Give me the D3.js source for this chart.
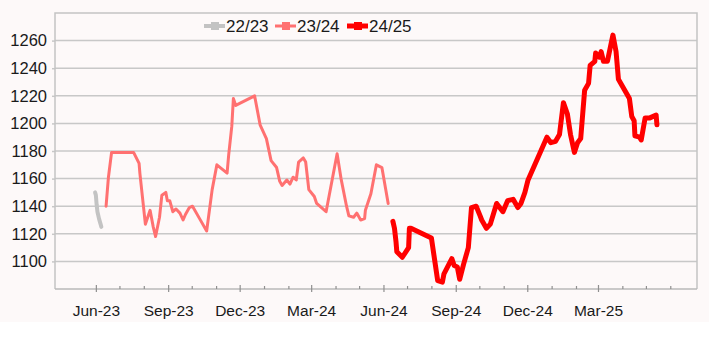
<!DOCTYPE html>
<html>
<head>
<meta charset="utf-8">
<script src="https://cdn.jsdelivr.net/npm/d3@7/dist/d3.min.js"></script>
<style>
  html, body { margin: 0; padding: 0; background: #ffffff; }
  svg { display: block; font-family: "Liberation Sans", Arial, sans-serif; }
</style>
</head>
<body>
<svg id="chart" width="709" height="340"></svg>
<script>
// ---- data ----
const seriesNames = ["22/23", "23/24", "24/25"];
const seriesColors = ["#c3c3c3", "#ff7171", "#ff0000"];

const dates2223 = ["2023-05-31","2023-06-01","2023-06-02","2023-06-03","2023-06-05","2023-06-07","2023-06-08"];
const values2223 = [1150, 1148, 1141, 1136, 1131, 1127, 1125];

const dates2324 = ["2023-06-14","2023-06-17","2023-06-21","2023-07-19","2023-07-26","2023-07-27","2023-08-03","2023-08-06","2023-08-09","2023-08-13","2023-08-16","2023-08-21","2023-08-24","2023-08-29","2023-08-31","2023-09-03","2023-09-07","2023-09-11","2023-09-16","2023-09-20","2023-09-23","2023-09-28","2023-10-02","2023-10-11","2023-10-20","2023-10-27","2023-11-02","2023-11-15","2023-11-17","2023-11-21","2023-11-23","2023-11-26","2023-12-20","2023-12-27","2024-01-04","2024-01-10","2024-01-17","2024-01-21","2024-01-24","2024-01-30","2024-02-03","2024-02-07","2024-02-11","2024-02-14","2024-02-20","2024-02-23","2024-02-27","2024-03-05","2024-03-08","2024-03-12","2024-03-20","2024-04-03","2024-04-08","2024-04-15","2024-04-18","2024-04-24","2024-04-28","2024-05-03","2024-05-08","2024-05-09","2024-05-16","2024-05-23","2024-05-30","2024-06-07"];
const values2324 = [1140, 1161, 1179, 1179, 1171, 1164, 1127, 1132, 1137, 1125, 1118, 1132, 1148, 1150, 1144, 1144, 1136, 1138, 1135, 1130, 1134, 1139, 1140, 1131, 1122, 1152, 1170, 1164, 1177, 1198, 1218, 1213, 1220, 1199, 1189, 1173, 1168, 1158, 1155, 1159, 1156, 1161, 1159, 1172, 1175, 1172, 1152, 1147, 1142, 1140, 1136, 1178, 1160, 1140, 1133, 1132, 1135, 1130, 1131, 1137, 1149, 1170, 1168, 1142];

const dates2425 = ["2024-06-13","2024-06-15","2024-06-17","2024-06-18","2024-06-25","2024-07-03","2024-07-04","2024-07-06","2024-08-01","2024-08-09","2024-08-15","2024-08-17","2024-08-27","2024-08-30","2024-09-03","2024-09-06","2024-09-11","2024-09-17","2024-09-21","2024-09-27","2024-10-02","2024-10-04","2024-10-10","2024-10-15","2024-10-23","2024-10-31","2024-11-06","2024-11-13","2024-11-19","2024-11-23","2024-11-28","2024-12-02","2024-12-26","2024-12-31","2025-01-06","2025-01-11","2025-01-16","2025-01-21","2025-01-25","2025-01-30","2025-02-03","2025-02-07","2025-02-12","2025-02-17","2025-02-19","2025-02-25","2025-02-26","2025-03-03","2025-03-05","2025-03-08","2025-03-13","2025-03-20","2025-03-24","2025-03-27","2025-04-06","2025-04-10","2025-04-13","2025-04-16","2025-04-17","2025-04-23","2025-04-25","2025-04-30","2025-05-06","2025-05-14","2025-05-15"];
const values2425 = [1129, 1124, 1114, 1107, 1103, 1110, 1124, 1124, 1117, 1086, 1085, 1091, 1102, 1097, 1096, 1087, 1098, 1110, 1139, 1140, 1133, 1130, 1124, 1127, 1142, 1136, 1144, 1145, 1139, 1142, 1150, 1159, 1190, 1186, 1187, 1192, 1215, 1207, 1192, 1179, 1186, 1189, 1224, 1229, 1242, 1245, 1251, 1248, 1252, 1245, 1245, 1264, 1252, 1232, 1222, 1218, 1205, 1202, 1191, 1190, 1188, 1204, 1204, 1206, 1199];

const yTicks = [1100, 1120, 1140, 1160, 1180, 1200, 1220, 1240, 1260];
const xLabelMonths = ["2023-06-01","2023-09-01","2023-12-01","2024-03-01","2024-06-01","2024-09-01","2024-12-01","2025-03-01"];

// ---- layout ----
const W = 709, H = 340;
const plot = { left: 55, right: 697, top: 13, bottom: 289 };
const parse = d3.utcParse("%Y-%m-%d");

const svg = d3.select("#chart");
svg.append("rect").attr("x", 0).attr("y", 0).attr("width", W).attr("height", 322).attr("fill", "#fdf9f9");

const x = d3.scaleUtc()
  .domain([parse("2023-04-10"), parse("2025-07-05")])
  .range([plot.left, plot.right]);
const y = d3.scaleLinear().domain([1080, 1280]).range([plot.bottom, plot.top]);

// gridlines + y labels via axis
const yAxis = d3.axisLeft(y).tickValues(yTicks).tickSize(-(plot.right - plot.left) - 3).tickPadding(7).tickFormat(d3.format("d"));
const gy = svg.append("g").attr("transform", `translate(${plot.right},0)`);
gy.attr("transform", `translate(${plot.left - 3 + (plot.right - plot.left) + 3},0)`);
// simpler: draw axis at plot.left with negative inner size to extend right
gy.remove();
const gY = svg.append("g").attr("transform", `translate(${plot.left},0)`)
  .call(d3.axisLeft(y).tickValues(yTicks).tickSize(3).tickPadding(5).tickFormat(d3.format("d")));
gY.select(".domain").remove();
gY.selectAll(".tick line").attr("stroke", "#c8c8c8").attr("stroke-width", 1.5);
gY.selectAll(".tick text").attr("font-size", "16.5px").attr("fill", "#1a1a1a").attr("font-family", "Liberation Sans, Arial, sans-serif");

svg.append("g").selectAll("line").data(yTicks).join("line")
  .attr("x1", plot.left).attr("x2", plot.right)
  .attr("y1", d => y(d)).attr("y2", d => y(d))
  .attr("stroke", "#c8c8c8").attr("stroke-width", 1.5);

// plot border (left, top, right)
svg.append("path")
  .attr("d", `M${plot.left},${plot.bottom}V${plot.top}H${plot.right}V${plot.bottom}`)
  .attr("fill", "none").attr("stroke", "#c4c4c4").attr("stroke-width", 1.5);

// x axis
const monthTicks = d3.utcMonth.range(parse("2023-06-01"), parse("2025-06-02"));
const labelSet = new Set(xLabelMonths);
const gX = svg.append("g").attr("transform", `translate(0,${plot.bottom})`)
  .call(d3.axisBottom(x).tickValues(monthTicks).tickSize(0).tickPadding(16)
    .tickFormat(d => labelSet.has(d3.utcFormat("%Y-%m-%d")(d)) ? d3.utcFormat("%b-%y")(d) : ""));
gX.select(".domain").attr("d", `M${plot.left},0H${plot.right}`).attr("stroke", "#b8b8b8").attr("stroke-width", 1.5);
gX.selectAll(".tick text").attr("font-size", "15.5px").attr("fill", "#1a1a1a").attr("font-family", "Liberation Sans, Arial, sans-serif");
gX.selectAll(".tick").append("line")
  .attr("y1", d => labelSet.has(d3.utcFormat("%Y-%m-%d")(d)) ? -4 : -3)
  .attr("y2", d => labelSet.has(d3.utcFormat("%Y-%m-%d")(d)) ? 3 : 0)
  .attr("stroke", "#909090").attr("stroke-width", 1.2);

// series
const series = [
  { name: seriesNames[0], color: seriesColors[0], width: 4, data: dates2223.map((d, i) => ({ date: parse(d), value: values2223[i] })) },
  { name: seriesNames[1], color: seriesColors[1], width: 3, data: dates2324.map((d, i) => ({ date: parse(d), value: values2324[i] })) },
  { name: seriesNames[2], color: seriesColors[2], width: 5, data: dates2425.map((d, i) => ({ date: parse(d), value: values2425[i] })) }
];
const line = d3.line().x(d => x(d.date)).y(d => y(d.value));
svg.append("g").selectAll("path").data(series).join("path")
  .attr("d", s => line(s.data))
  .attr("fill", "none")
  .attr("stroke", s => s.color)
  .attr("stroke-width", s => s.width)
  .attr("stroke-linejoin", "round")
  .attr("stroke-linecap", "round");

// legend
const legendX = [204, 275, 347];
const lg = svg.append("g");
series.forEach((s, i) => {
  const g = lg.append("g").attr("transform", `translate(${legendX[i]},26)`);
  g.append("line").attr("x1", 0).attr("x2", 21).attr("y1", 0).attr("y2", 0)
    .attr("stroke", s.color).attr("stroke-width", s.width);
  g.append("rect").attr("x", 7).attr("y", -4).attr("width", 8).attr("height", 8).attr("fill", s.color);
  g.append("text").attr("x", 22).attr("y", 6).attr("font-size", "17px").attr("fill", "#1a1a1a").text(s.name);
});
</script>
</body>
</html>
